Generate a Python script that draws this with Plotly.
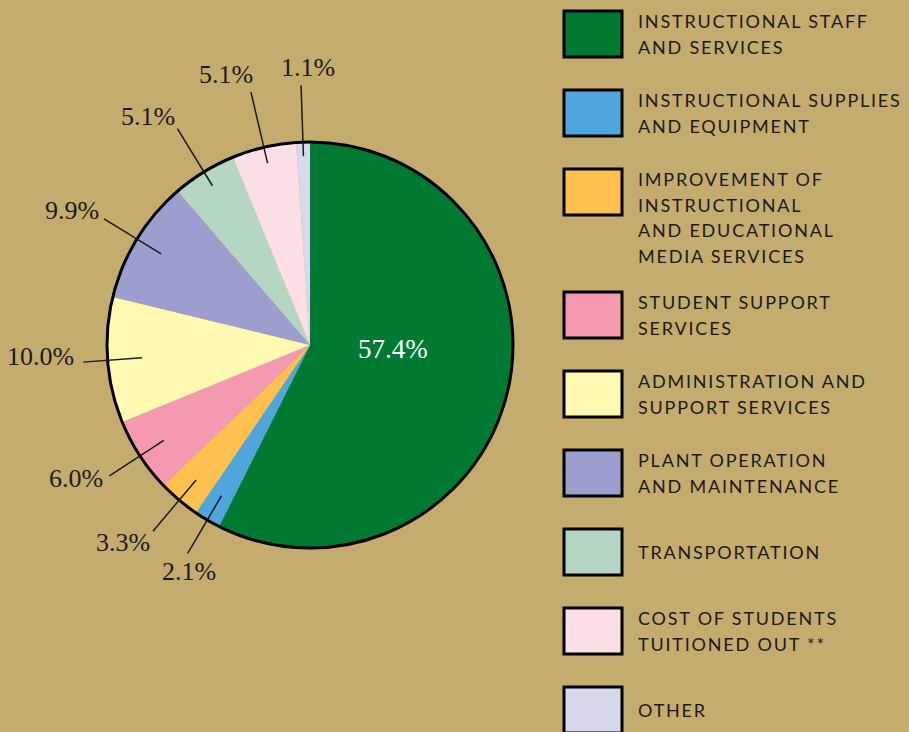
import math
import plotly.graph_objects as go

# data
labels = [
    "Instructional Staff and Services",
    "Instructional Supplies and Equipment",
    "Improvement of Instructional and Educational Media Services",
    "Student Support Services",
    "Administration and Support Services",
    "Plant Operation and Maintenance",
    "Transportation",
    "Cost of Students Tuitioned Out **",
    "Other",
]
values = [57.4, 2.1, 3.3, 6.0, 10.0, 9.9, 5.1, 5.1, 1.1]
colors = ["#007A33", "#4EA6DC", "#FEC150", "#F499AF", "#FFF9B1",
          "#9D9ECE", "#B4D6C2", "#FCDFE6", "#D5D9EB"]
legend_lines = [
    ["INSTRUCTIONAL STAFF", "AND SERVICES"],
    ["INSTRUCTIONAL SUPPLIES", "AND EQUIPMENT"],
    ["IMPROVEMENT OF", "INSTRUCTIONAL", "AND EDUCATIONAL", "MEDIA SERVICES"],
    ["STUDENT SUPPORT", "SERVICES"],
    ["ADMINISTRATION AND", "SUPPORT SERVICES"],
    ["PLANT OPERATION", "AND MAINTENANCE"],
    ["TRANSPORTATION"],
    ["COST OF STUDENTS", "TUITIONED OUT **"],
    ["OTHER"],
]

W, H = 909, 732
BG = "#C4AC6E"
CX, CY, R = 310, 345, 203  # pie centre and radius in pixels

# leader line start/end (fraction of radius) and label nudge in px, per slice
leader_in = [None, 0.86, 0.87, 0.86, 0.83, 0.86, 0.92, 0.92, 0.93]
leader_out = [None, 1.19, 1.20, 1.18, 1.12, 1.19, 1.25, 1.28, 1.28]
label_nudge = [None, (1, 18), (-30, 11), (-33, 3), (-43, -6), (-32, -8),
               (-29, -12), (-25, -17), (7, -18)]


def px(x):
    return x / W


def py(y):
    return 1 - y / H


def polar(frac, r):
    a = 2 * math.pi * frac
    return CX + r * math.sin(a), CY - r * math.cos(a)


fig = go.Figure(go.Pie(
    values=values, labels=labels, sort=False, direction="clockwise", rotation=0,
    marker=dict(colors=colors, line=dict(width=0)),
    textinfo="none", showlegend=False,
    domain=dict(x=[px(CX - R), px(CX + R)], y=[py(CY + R), py(CY - R)]),
))

shapes = []
annotations = []

# outline round the pie
shapes.append(dict(type="circle", xref="paper", yref="paper",
                   x0=px(CX - R), x1=px(CX + R), y0=py(CY + R), y1=py(CY - R),
                   line=dict(color="black", width=3), fillcolor="rgba(0,0,0,0)"))

# percentage labels with leader lines
total = sum(values)
cum = 0
for i, v in enumerate(values):
    mid = (cum + v / 2) / total
    cum += v
    txt = f"{v:.1f}%"
    if i == 0:
        x, y = polar(mid - 0.03, 0.41 * R)
        annotations.append(dict(x=px(x), y=py(y), xref="paper", yref="paper",
                                xanchor="center", yanchor="middle",
                                text=txt, showarrow=False,
                                font=dict(family="Liberation Serif", size=27, color="white")))
        continue
    x0, y0 = polar(mid, leader_in[i] * R)
    x1, y1 = polar(mid, leader_out[i] * R)
    shapes.append(dict(type="line", xref="paper", yref="paper",
                       x0=px(x0), y0=py(y0), x1=px(x1), y1=py(y1),
                       line=dict(color="#1a1a1a", width=1.5)))
    dx, dy = label_nudge[i]
    annotations.append(dict(x=px(x1 + dx), y=py(y1 + dy), xref="paper", yref="paper",
                            xanchor="center", yanchor="middle",
                            text=txt, showarrow=False,
                            font=dict(family="Liberation Serif", size=26, color="#1a1a1a")))

# legend drawn as boxes and text
top = 10
LINE_H = 25.5
for i, lines in enumerate(legend_lines):
    shapes.append(dict(type="rect", xref="paper", yref="paper",
                       x0=px(564), x1=px(622), y0=py(top + 47), y1=py(top + 1),
                       fillcolor=colors[i], line=dict(color="black", width=3)))
    centre = top + 24
    first = centre - (min(len(lines), 2) - 1) * LINE_H / 2
    for j, line in enumerate(lines):
        annotations.append(dict(x=px(636), y=py(first + j * LINE_H), xref="paper", yref="paper",
                                xanchor="left", yanchor="middle",
                                text=f'<span style="letter-spacing:1.8px">{line}</span>',
                                showarrow=False,
                                font=dict(family="Lato", size=18, color="#1a1a1a")))
    top += 79 + max(0, len(lines) - 2) * 22

fig.update_layout(width=W, height=H, margin=dict(l=0, r=0, t=0, b=0),
                  paper_bgcolor=BG, plot_bgcolor=BG,
                  shapes=shapes, annotations=annotations)

fig.write_html("out.html", config={"displayModeBar": False},
               post_script="document.body.style.margin='0';document.body.style.background='%s';" % BG)
